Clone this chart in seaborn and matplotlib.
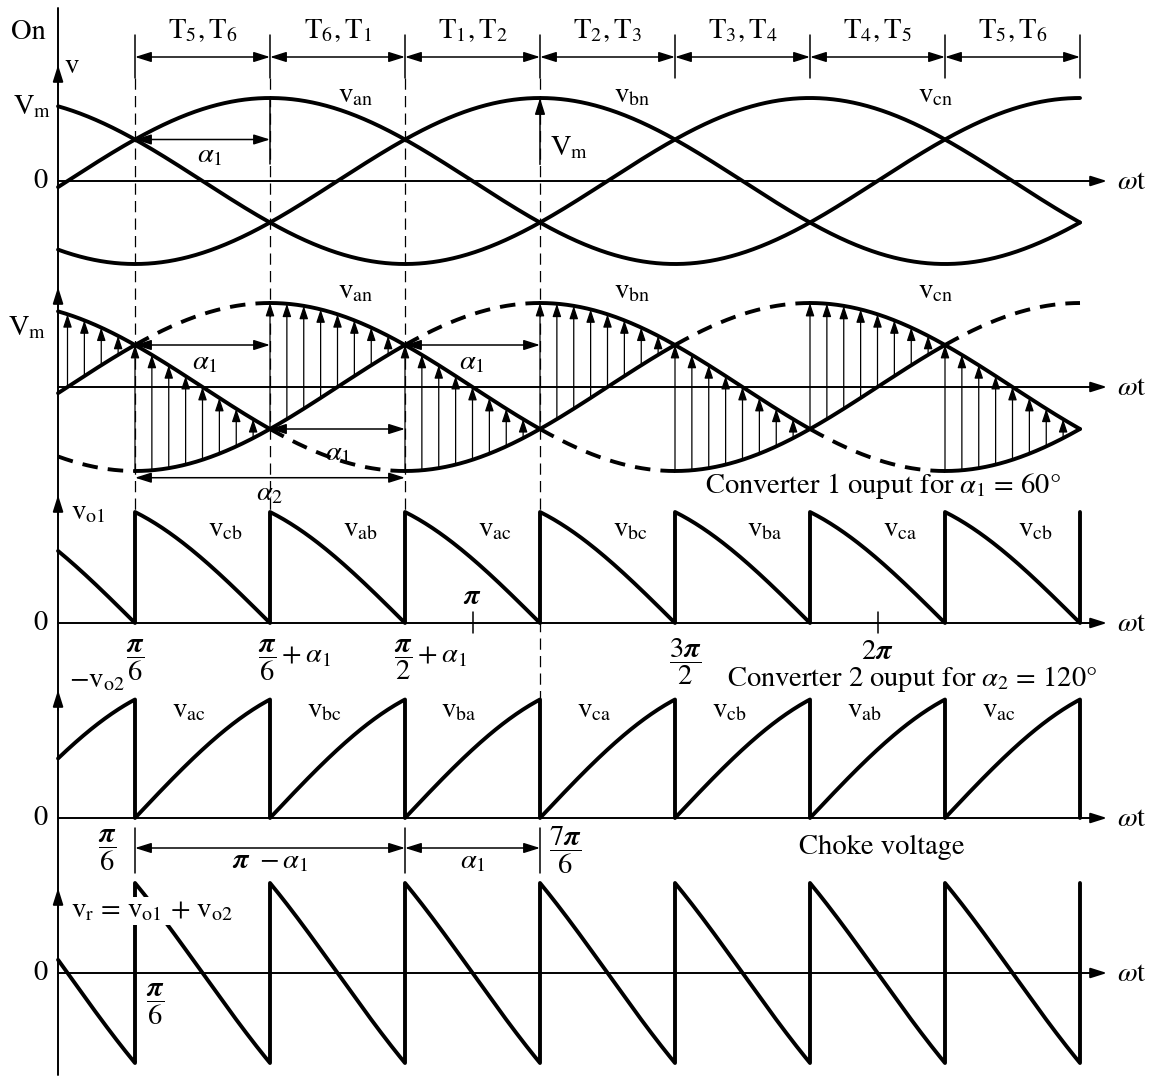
import numpy as np
import pandas as pd
import matplotlib
matplotlib.use("Agg")
import matplotlib.pyplot as plt
import seaborn as sns

# three-phase supply: phase names and lag of each phase (degrees)
PHASES = ["an", "bn", "cn"]
PHASE_LAG = [0, 120, 240]
# firing angles of the two converters (degrees)
ALPHA1 = 60
ALPHA2 = 120
THETA_START = -4.2
THETA_END = 450
SEGMENT_EDGES = [30, 90, 150, 210, 270, 330, 390, 450]
ARROW_STEP = 7.5

SWITCH_PAIRS = [("5", "6"), ("6", "1"), ("1", "2"), ("2", "3"), ("3", "4"), ("4", "5"), ("5", "6")]
VO1_LABELS = ["cb", "ab", "ac", "bc", "ba", "ca", "cb"]
VO2_LABELS = ["ac", "bc", "ba", "ca", "cb", "ab", "ac"]

# layout: zero row (px) and px per Vm for each trace panel
ZERO = {"phase": 181, "conv1": 387, "vo1": 623, "vo2": 818, "vr": 973}
GAIN = {"phase": 83, "conv1": 84, "vo1": 74, "vo2": 79, "vr": 60}
AXIS_X = -4.2
FS = 20.5
PI = r"\boldsymbol{\pi}"

sns.set_style("white")
plt.rcParams["font.family"] = ["STIXGeneral", "DejaVu Serif"]
plt.rcParams["mathtext.fontset"] = "stix"


def row(panel, v):
    return ZERO[panel] - GAIN[panel] * np.asarray(v)


def phase_v(p, th):
    return np.sin(np.radians(np.asarray(th) - PHASE_LAG[p]))


def conducting(th, alpha, offset):
    # index of the phase held by the upper (offset 0) or lower (offset 180) group
    return np.floor((np.asarray(th) - 30 - alpha - offset) / 120).astype(int) % 3


def bridge_output(th, alpha):
    up = conducting(th, alpha, 0)
    lo = conducting(th, alpha, 180)
    vu = np.choose(up, [phase_v(i, th) for i in range(3)])
    vl = np.choose(lo, [phase_v(i, th) for i in range(3)])
    return vu, vl


pieces = []
grid = np.linspace(THETA_START, THETA_END, 1818)

# panel 1: plain phase voltages
for i, p in enumerate(PHASES):
    pieces.append(pd.DataFrame({"theta": grid, "y": row("phase", phase_v(i, grid)),
                                "piece": f"ph_{p}", "kind": "solid"}))

# panel 2: solid where the phase is held by converter 1, dashed otherwise
up1 = conducting(grid, ALPHA1, 0)
lo1 = conducting(grid, ALPHA1, 180)
for i, p in enumerate(PHASES):
    on = (up1 == i) | (lo1 == i)
    cuts = np.flatnonzero(np.diff(on.astype(int))) + 1
    starts = np.r_[0, cuts]
    ends = np.r_[cuts, len(grid) - 1]
    for k, (s, e) in enumerate(zip(starts, ends)):
        th = grid[s:e + 1]
        pieces.append(pd.DataFrame({"theta": th, "y": row("conv1", phase_v(i, th)),
                                    "piece": f"c1_{p}_{k}", "kind": "solid" if on[s] else "dashed"}))

# panels 3-5: converter outputs built segment by segment so the jumps are vertical
bounds = [THETA_START] + SEGMENT_EDGES
th_seg, mid_seg = [], []
for a, b in zip(bounds[:-1], bounds[1:]):
    t = np.linspace(a, b, 80)
    th_seg.append(t)
    mid_seg.append(np.full_like(t, (a + b) / 2))
th_seg.append(np.array([THETA_END]))
mid_seg.append(np.array([THETA_END + 30.0]))
th_all = np.concatenate(th_seg)
mid_all = np.concatenate(mid_seg)


def segment_output(alpha):
    up = conducting(mid_all, alpha, 0)
    lo = conducting(mid_all, alpha, 180)
    vu = np.choose(up, [phase_v(i, th_all) for i in range(3)])
    vl = np.choose(lo, [phase_v(i, th_all) for i in range(3)])
    return vu - vl


vo1 = segment_output(ALPHA1)
neg_vo2 = -segment_output(ALPHA2)
vr = vo1 - neg_vo2
for name, vals in [("vo1", vo1), ("vo2", neg_vo2), ("vr", vr)]:
    pieces.append(pd.DataFrame({"theta": th_all, "y": row(name, vals), "piece": name, "kind": "solid"}))

curves = pd.concat(pieces, ignore_index=True)

fig = plt.figure(figsize=(11.52, 10.79), dpi=100)
ax = fig.add_axes([0, 0, 1, 1])


def arrow(x0, y0, x1, y1, style="-|>", lw=1.1, hl=0.7, hw=0.22, ms=14):
    ax.annotate("", xy=(x1, y1), xytext=(x0, y0),
                arrowprops=dict(arrowstyle=f"{style},head_length={hl},head_width={hw}",
                                color="k", lw=lw, shrinkA=0, shrinkB=0, mutation_scale=ms))


def label(x, y, s, ha="center", va="center", **kw):
    ax.text(x, y, s, ha=ha, va=va, fontsize=FS, color="k", **kw)


# dashed guide lines
for t in SEGMENT_EDGES[:4]:
    y_end = 700 if t == 210 else 512
    ax.plot([t, t], [78, y_end], color="k", lw=0.9, ls=(0, (9, 5)), zorder=1)

sns.lineplot(data=curves, x="theta", y="y", units="piece", style="kind",
             dashes={"solid": "", "dashed": (4, 2.6)}, estimator=None, sort=False,
             color="k", lw=2.8, legend=False, ax=ax)
ax.set_xlim(-30, 482)
ax.set_ylim(1079, 0)
ax.axis("off")

# vertical axis with an arrowhead for every panel
ax.plot([AXIS_X, AXIS_X], [8, 1075], color="k", lw=1.4)
for tip in [65, 287, 495, 690, 888]:
    arrow(AXIS_X, tip + 20, AXIS_X, tip, lw=1.4)
# horizontal axes
for p in ZERO:
    arrow(AXIS_X, ZERO[p], 462, ZERO[p], lw=1.4)
    label(466.5, ZERO[p] + 1, r"$\omega$t", ha="left")
for p in ["phase", "vo1", "vo2", "vr"]:
    label(-12.2, ZERO[p], "0")

# conducting switches
label(-17.6, 32, "On")
for t in SEGMENT_EDGES:
    ax.plot([t, t], [35, 78], color="k", lw=1.1)
for (a, b), (s1, s2) in zip(zip(SEGMENT_EDGES[:-1], SEGMENT_EDGES[1:]), SWITCH_PAIRS):
    arrow(a, 57, b, 57, style="<|-|>", lw=1.1)
    label((a + b) / 2, 31, rf"$\mathrm{{T}}_{s1},\mathrm{{T}}_{s2}$")

# panel 1 annotations
label(1.6, 66, "v")
label(-15.8, 107, r"V$_\mathrm{m}$")
for p, x in zip(PHASES, [128, 251, 386]):
    label(x, 96, rf"v$_\mathrm{{{p}}}$")
arrow(30, row("phase", 0.5), 90, row("phase", 0.5), style="<|-|>")
ax.plot([90, 90], [row("phase", 1.0), row("phase", 0.2)], color="k", lw=1.1)
label(63.3, 156, r"$\alpha_1$")
arrow(210, row("phase", 0.2), 210, row("phase", 1.0))
label(214.4, 148, r"V$_\mathrm{m}$", ha="left")

# panel 2: vo1 shown as arrows from lower to upper envelope
for t in np.arange(-30, THETA_END, ARROW_STEP):
    if t < THETA_START:
        continue
    vu, vl = bridge_output(t, ALPHA1)
    if vu - vl > 0.15:
        arrow(t, row("conv1", vl), t, row("conv1", vu), lw=0.9, hl=0.6, hw=0.2, ms=13)
label(-17.8, 328, r"V$_\mathrm{m}$")
for p, x in zip(PHASES, [128, 251, 386]):
    label(x, 292, rf"v$_\mathrm{{{p}}}$")
arrow(30, row("conv1", 0.5), 90, row("conv1", 0.5), style="<|-|>")
arrow(150, row("conv1", 0.5), 210, row("conv1", 0.5), style="<|-|>")
arrow(90, row("conv1", -0.5), 150, row("conv1", -0.5), style="<|-|>")
arrow(30, row("conv1", -1.08), 150, row("conv1", -1.08), style="<|-|>")
label(61.1, 363, r"$\alpha_1$")
label(179.8, 363, r"$\alpha_1$")
label(120.2, 454, r"$\alpha_1$")
label(90, 494, r"$\alpha_2$")
label(283.3, 486, r"Converter 1 ouput for $\alpha_1$ = 60°", ha="left")

# panel 3: converter 1 output
label(9.1, 513, r"v$_\mathrm{o1}$")
mids = [(a + b) / 2 for a, b in zip(SEGMENT_EDGES[:-1], SEGMENT_EDGES[1:])]
for m, s in zip(mids, VO1_LABELS):
    label(m + 10, 530, rf"v$_\mathrm{{{s}}}$")
for t in [180, 360]:
    ax.plot([t, t], [612, 633], color="k", lw=1.1)
label(180, 597, rf"${PI}$")
label(359.8, 652, rf"$2{PI}$")
label(30, 660, rf"$\dfrac{{{PI}}}{{6}}$")
label(84.7, 660, rf"$\dfrac{{{PI}}}{{6}} + \alpha_1$", ha="left")
label(145.1, 660, rf"$\dfrac{{{PI}}}{{2}} + \alpha_1$", ha="left")
label(274.4, 662, rf"$\dfrac{{3{PI}}}{{2}}$")
label(293.1, 679, r"Converter 2 ouput for $\alpha_2$ = 120°", ha="left")

# panel 4: converter 2 output (inverted)
label(13.1, 681, r"$-$v$_\mathrm{o2}$")
for m, s in zip(mids, VO2_LABELS):
    label(m - 6, 711, rf"v$_\mathrm{{{s}}}$")
for t in [30, 150, 210]:
    ax.plot([t, t], [828, 873], color="k", lw=1.1)
arrow(30, 848, 150, 848, style="<|-|>")
arrow(150, 848, 210, 848, style="<|-|>")
label(17.6, 850, rf"$\dfrac{{{PI}}}{{6}}$")
label(90, 862, rf"${PI}\ -\alpha_1$")
label(180, 862, r"$\alpha_1$")
label(221, 850, rf"$\dfrac{{7{PI}}}{{6}}$")
label(362, 847, "Choke voltage")

# panel 5: choke voltage
label(37.6, 911, r"v$_\mathrm{r}$ = v$_\mathrm{o1}$ + v$_\mathrm{o2}$",
      bbox=dict(fc="white", ec="none", pad=1), zorder=5)
label(38.9, 1004, rf"$\dfrac{{{PI}}}{{6}}$")

fig.savefig("out.png", dpi=100, facecolor="white")
